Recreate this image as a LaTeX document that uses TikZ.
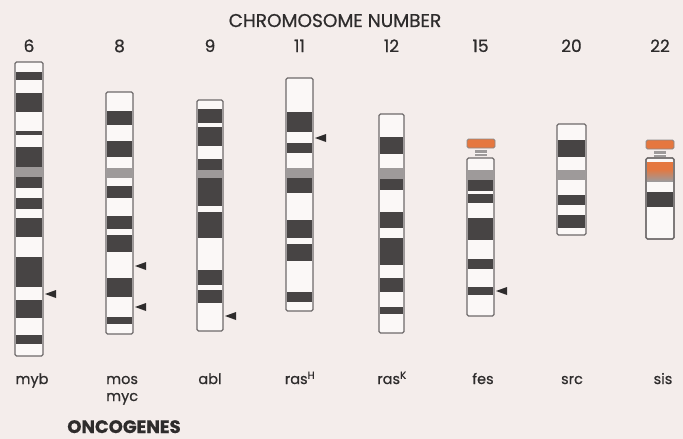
\documentclass[tikz,border=0pt]{standalone}
\usepackage{fontspec}
\setmainfont{Poppins}[FakeBold=0.7]
\usetikzlibrary{positioning}
\definecolor{cPaper}{HTML}{F4EDEB}
\definecolor{cLight}{HTML}{FBF8F7}
\definecolor{cBand}{HTML}{474444}
\definecolor{cGrey}{HTML}{9E9A9A}
\definecolor{cEdge}{HTML}{6E6A6A}
\definecolor{cSat}{HTML}{E5773F}
\definecolor{cInk}{HTML}{2E2C2C}
\tikzset{
  chr/.style={draw=cEdge, line width=1.1pt, rounded corners=1.5pt},
  head/.style={font=\fontsize{18.5}{18}\selectfont, text=cInk, anchor=base, inner sep=0pt},
  num/.style={font=\fontsize{17}{17}\selectfont, text=cInk, anchor=base, inner sep=0pt},
  gene/.style={font=\fontsize{14.5}{14}\selectfont, text=cInk, anchor=base, inner sep=0pt},
  locus/.style={fill=cInk},
}
% chromosome: left, right, top, bottom, bands y1/y2/colour
\newcommand{\chromo}[5]{%
  \fill[cLight] (#1,#3) rectangle (#2,#4);
  \foreach \ya/\yb/\cc in {#5}
    \fill[\cc] ({#1+1},\ya) rectangle ({#2-1},\yb);
  \draw[chr] (#1,#3) rectangle (#2,#4);
}
% satellite and stalk on top of an acrocentric chromosome
\newcommand{\satel}[3]{%
  \draw[fill=cSat, draw=cEdge!80, line width=0.9pt, rounded corners=1.5pt]
    (#1,#3) rectangle (#2,{#3+9});
  \fill[cGrey] ({(#1+#2)/2-6},{#3+11}) rectangle ({(#1+#2)/2+6},{#3+17});
  \draw[cLight, line width=0.8pt] ({(#1+#2)/2-6},{#3+14}) -- ({(#1+#2)/2+6},{#3+14});
}
\newcommand{\pin}[2]{\fill[locus] (#1,#2) -- ++(11,-4) -- ++(0,8) -- cycle;}

\begin{document}
\begin{tikzpicture}[x=1pt, y=-1pt]
  \fill[cPaper] (0,0) rectangle (683,439);
  \useasboundingbox (0,0) rectangle (683,439);

  \node[head] (title) at (335,27) {CHROMOSOME NUMBER};
  \foreach \n/\x in {6/29,8/119.5,9/210,11/299.5,12/391.5,15/480.5,20/571.5,22/660}
    \node[num] (n\n) at (\x,52) {\n};

  % banded chromosomes
  \chromo{15}{43}{62}{356}{72/80/cBand,93/112/cBand,131/135/cBand,147/167/cBand,
    167/177/cGrey,177/188/cBand,198/209/cBand,218/237/cBand,257/287/cBand,
    300/318/cBand,335/344/cBand}
  \chromo{106}{133}{92}{334}{111/125/cBand,141/157/cBand,168/178/cGrey,186/198/cBand,
    216/229/cBand,235/252/cBand,278/297/cBand,317/324/cBand}
  \chromo{197}{223}{100}{331}{109/123/cBand,127/146/cBand,159/170/cBand,170/178/cGrey,
    178/206/cBand,212/238/cBand,270/285/cBand,290/303/cBand}
  \chromo{286}{313}{78}{311}{112/132/cBand,143/153/cBand,168/178/cGrey,178/193/cBand,
    220/238/cBand,244/261/cBand,292/302/cBand}
  \chromo{379}{404}{114}{333}{137/154/cBand,168/179/cGrey,179/190/cBand,212/228/cBand,
    238/265/cBand,278/292/cBand,307/314/cBand}
  \chromo{467}{494}{158}{316}{170/180/cGrey,180/191/cBand,194/203/cBand,218/240/cBand,
    259/269/cBand,287/295/cBand}
  \chromo{557}{586}{124}{235}{140/157/cBand,170/180/cGrey,195/205/cBand,215/228/cBand}
  \chromo{646}{674}{158}{239}{162/169/cSat,192/207/cBand}
  \shade[top color=cSat, bottom color=cGrey] (647,169) rectangle (673,181);
  \draw[chr] (646,158) rectangle (674,239);
  \satel{467}{495}{139}
  \satel{646}{674}{140}

  % oncogene sites
  \pin{45}{294}
  \pin{135}{266}
  \pin{135}{307}
  \pin{225}{316}
  \pin{315}{138}
  \pin{496}{291}

  \node[gene] (g6) at (32,384) {myb};
  \node[gene, anchor=base west] (g8a) at (106,384) {mos};
  \node[gene, anchor=base west] (g8b) at (106,401) {myc};
  \node[gene] (g9) at (210,384) {abl};
  \node[gene] (g11) at (300,384) {ras\textsuperscript{H}};
  \node[gene] (g12) at (392,384) {ras\textsuperscript{K}};
  \node[gene] (g15) at (483,384) {fes};
  \node[gene] (g20) at (572,384) {src};
  \node[gene] (g22) at (663,384) {sis};
  \node[head, font=\bfseries\fontsize{18}{18}\selectfont] (onco) at (124,433) {ONCOGENES};
\end{tikzpicture}
\end{document}
